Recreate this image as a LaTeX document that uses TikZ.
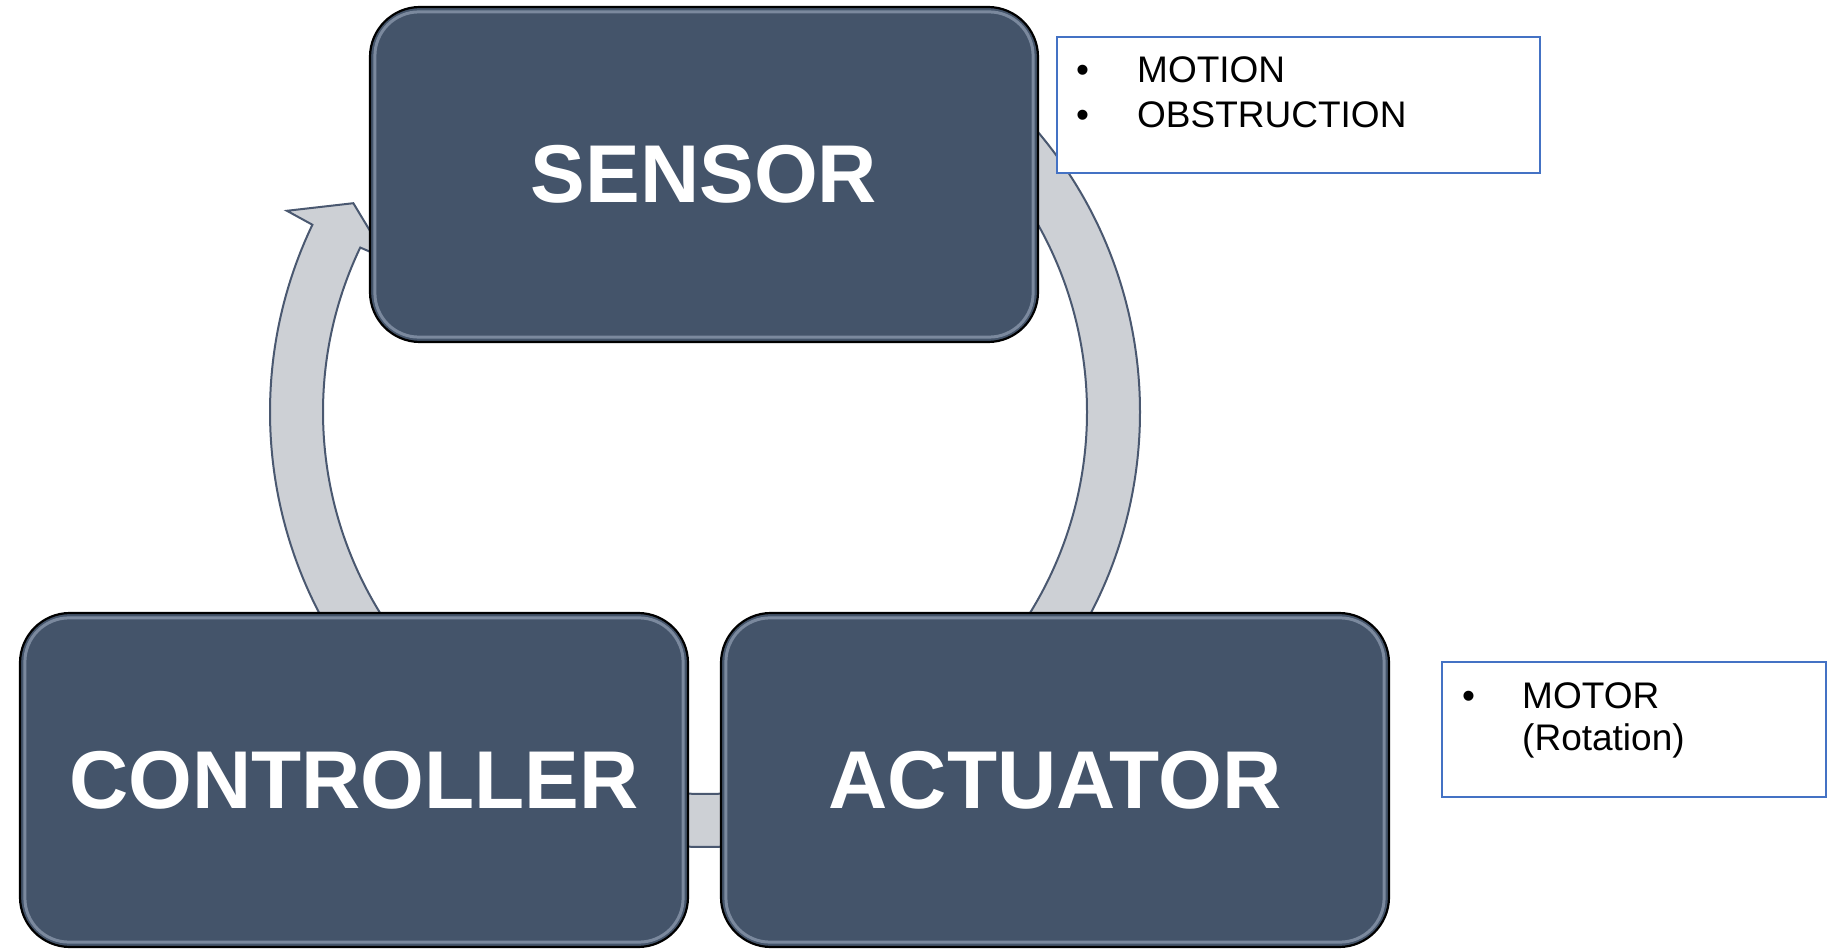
\documentclass[tikz,border=0pt]{standalone}
\usepackage{fontspec}
\setmainfont{Liberation Sans}
\definecolor{slate}{HTML}{44546A}
\definecolor{ringgray}{HTML}{CDD0D5}
\definecolor{ringline}{HTML}{4A5870}
\definecolor{bevelc}{HTML}{8E9CB0}
\definecolor{noteblue}{HTML}{4472C4}
\begin{document}
\begin{tikzpicture}[x=1pt,y=1pt,
  ring/.style={fill=ringgray, draw=ringline, line width=2pt, line join=miter},
  stagebox/.style={rectangle, rounded corners=50pt, fill=slate, draw=black, line width=2.2pt, text=white, font=\fontsize{82}{90}\selectfont\bfseries, minimum width=668pt, minimum height=335pt, inner sep=0pt},
  bevel/.style={draw=bevelc, line width=3pt, rounded corners=44pt, opacity=0.75},
  notebox/.style={rectangle, draw=noteblue, line width=2pt, fill=white, inner sep=0pt},
  notetext/.style={anchor=base west, inner sep=0pt, font=\fontsize{37}{44}\selectfont}]
\useasboundingbox (0,0) rectangle (1832,-949);
\coordinate (c) at (705,-412);
% ring segments
\filldraw[ring] ([shift={(c)}]220:435) arc[start angle=220,end angle=154.5,radius=435]
  -- ([shift={(c)}]154.3:464) -- ([shift={(c)}]149.3:409) -- ([shift={(c)}]154.3:353)
  -- ([shift={(c)}]154.5:382) arc[start angle=154.5,end angle=220,radius=382] -- cycle;
\filldraw[ring] ([shift={(c)}]45:435) arc[start angle=45,end angle=-45,radius=435]
  -- ([shift={(c)}]-45:382) arc[start angle=-45,end angle=45,radius=382] -- cycle;
\filldraw[ring] ([shift={(c)}]-60:435) arc[start angle=-60,end angle=-120,radius=435]
  -- ([shift={(c)}]-120:382) arc[start angle=-120,end angle=-60,radius=382] -- cycle;
% stage boxes
\node[stagebox] (sensor) at (704,-174.5) {SENSOR};
\node[stagebox, minimum height=334pt] (controller) at (354,-780) {CONTROLLER};
\node[stagebox, minimum height=334pt] (actuator) at (1055,-780) {ACTUATOR};
\foreach \n in {sensor,controller,actuator}{
  \draw[bevel] ([shift={(6,-6)}]\n.north west) rectangle ([shift={(-6,6)}]\n.south east);
}
% note boxes
\node[notebox, minimum width=483pt, minimum height=136pt] (snote) at (1298.5,-105) {};
\node[notetext] (b1) at (1076,-83) {•};
\node[notetext] (t1) at (1137,-83) {MOTION};
\node[notetext] (b2) at (1076,-128) {•};
\node[notetext] (t2) at (1137,-128) {OBSTRUCTION};
\node[notebox, minimum width=384pt, minimum height=135pt] (anote) at (1634,-729.5) {};
\node[notetext] (b3) at (1462,-708) {•};
\node[notetext] (t3) at (1522,-708) {MOTOR};
\node[notetext] (t4) at (1522,-750) {(Rotation)};
\end{tikzpicture}
\end{document}
